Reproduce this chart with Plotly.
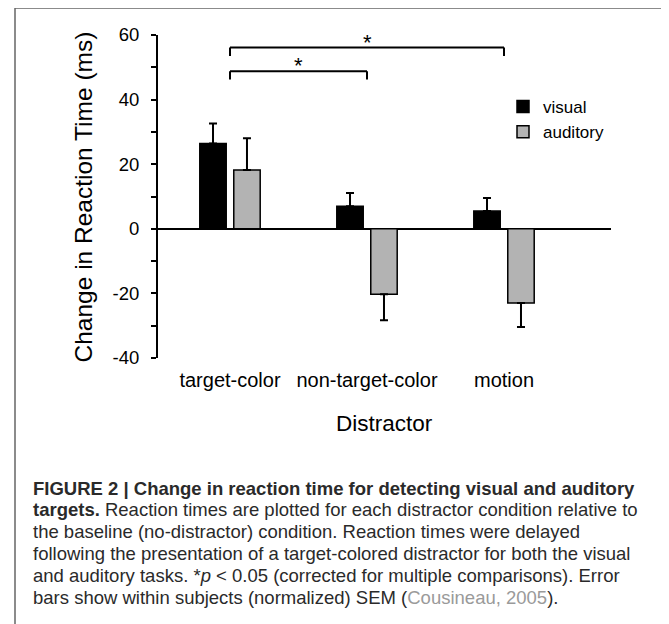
import plotly.graph_objects as go

# ---------------- data ----------------
categories = ["target-color", "non-target-color", "motion"]
visual = [26.4, 7.0, 5.5]
visual_err = [6.2, 4.1, 4.0]
auditory = [18.2, -20.3, -23.0]
auditory_err = [9.8, 8.0, 7.4]
y_ticks = [-40, -20, 0, 20, 40, 60]
y_ticktext = ["-40", "-20", "0", "20", "40", "60"]
y_minor = [-30, -10, 10, 30, 50]
# significance brackets: (from category index, to category index, level)
brackets = [(0, 1, 48.8), (0, 2, 56.1)]
caption_lines = [
    "<b>FIGURE 2 | Change in reaction time for detecting visual and auditory</b>",
    "<b>targets.</b> Reaction times are plotted for each distractor condition relative to",
    "the baseline (no-distractor) condition. Reaction times were delayed",
    "following the presentation of a target-colored distractor for both the visual",
    "and auditory tasks. *<i>p</i> &lt; 0.05 (corrected for multiple comparisons). Error",
    "bars show within subjects (normalized) SEM (<span style='color:#9a9a9a'>Cousineau, 2005</span>).",
]

FONT = "Liberation Sans, Arial, sans-serif"
W, H = 669, 624
OFF = 8  # page body margin
L, R, T, B = 158, 611, 35, 358  # plot area in page pixels


def px_x(p):
    return (p - L) / (R - L)


def px_y(p):
    return (B - p) / (B - T)


def up_err(vals, errs):
    return [e if v >= 0 else 0 for v, e in zip(vals, errs)]


def down_err(vals, errs):
    return [e if v < 0 else 0 for v, e in zip(vals, errs)]


fig = go.Figure()
for name, vals, errs, color in [
    ("visual", visual, visual_err, "black"),
    ("auditory", auditory, auditory_err, "#b3b3b3"),
]:
    fig.add_trace(go.Bar(
        x=categories, y=vals, name=name,
        marker=dict(color=color, line=dict(color="black", width=1.5)),
        error_y=dict(type="data", symmetric=False,
                     array=up_err(vals, errs), arrayminus=down_err(vals, errs),
                     color="black", thickness=2, width=4),
    ))

shapes = []
for a, b, lvl in brackets:
    for x0, y0, x1, y1 in [(a, lvl, b, lvl), (a, lvl, a, lvl - 2.6), (b, lvl, b, lvl - 2.6)]:
        shapes.append(dict(type="line", xref="x", yref="y", x0=x0, y0=y0, x1=x1, y1=y1,
                           line=dict(color="black", width=2)))
# outer frame
shapes.append(dict(type="rect", xref="paper", yref="paper",
                   x0=px_x(15), x1=px_x(667), y0=px_y(640), y1=px_y(8),
                   line=dict(color="#666", width=1.5), layer="below"))

annotations = []
for a, b, lvl in brackets:
    annotations.append(dict(x=(a + b) / 2, y=lvl - 2.8, xref="x", yref="y", text="*",
                            showarrow=False, xanchor="center", yanchor="bottom",
                            font=dict(family=FONT, size=22, color="black")))
annotations.append(dict(x=px_x(82.5), y=px_y(197), xref="paper", yref="paper",
                        xanchor="center", yanchor="middle",
                        text="Change in Reaction Time (ms)", textangle=-90, showarrow=False,
                        font=dict(family=FONT, size=24.5, color="black")))
annotations.append(dict(x=0.5, y=px_y(423), xref="paper", yref="paper",
                        xanchor="center", yanchor="middle",
                        text="Distractor", showarrow=False,
                        font=dict(family=FONT, size=22.5, color="black")))
for i, line in enumerate(caption_lines):
    annotations.append(dict(x=px_x(31), y=px_y(488 + i * 21.8), xref="paper", yref="paper",
                            xanchor="left", yanchor="middle", align="left",
                            text=line, showarrow=False,
                            font=dict(family=FONT, size=18.5, color="#2a2a2a")))

fig.update_layout(
    width=W, height=H,
    margin=dict(l=L - OFF, r=W - (R - OFF), t=T - OFF, b=H - (B - OFF), pad=0),
    paper_bgcolor="white", plot_bgcolor="white",
    barmode="group", bargap=0.504, bargroupgap=0.222,
    font=dict(family=FONT, color="black"),
    showlegend=True,
    legend=dict(x=px_x(503), y=px_y(89), xanchor="left", yanchor="top",
                bgcolor="rgba(0,0,0,0)", font=dict(family=FONT, size=17, color="black"),
                tracegroupgap=0, itemwidth=30),
    xaxis=dict(type="category", range=[-0.5255, 2.781], showline=False, showgrid=False,
               zeroline=False, ticks="outside", ticklen=4, tickcolor="rgba(0,0,0,0)",
               tickfont=dict(family=FONT, size=20, color="black")),
    yaxis=dict(range=[-40, 60], tickmode="array", tickvals=y_ticks, ticktext=y_ticktext,
               showline=True, linecolor="black", linewidth=2, showgrid=False,
               zeroline=True, zerolinecolor="black", zerolinewidth=2,
               ticks="outside", ticklen=5, tickwidth=2, tickcolor="black",
               ticklabelstandoff=8,
               minor=dict(tickvals=y_minor, ticks="outside", ticklen=5,
                          tickwidth=2, tickcolor="black"),
               tickfont=dict(family=FONT, size=18.5, color="black")),
    shapes=shapes, annotations=annotations,
)

fig.write_html("out.html")
